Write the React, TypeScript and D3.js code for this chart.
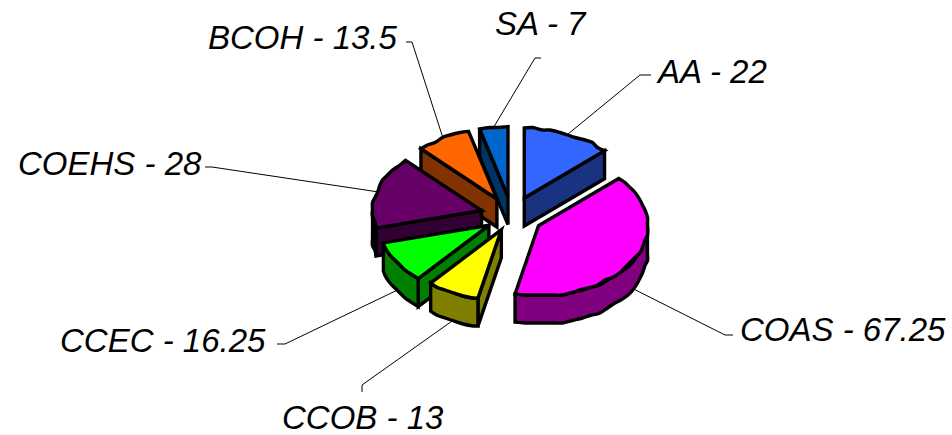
import React from "react";
import * as d3 from "d3";

const categories = ["AA", "COAS", "CCOB", "CCEC", "COEHS", "BCOH", "SA"];
const values = [22, 67.25, 13, 16.25, 28, 13.5, 7];
const valueLabels = ["22", "67.25", "13", "16.25", "28", "13.5", "7"];
const topColors = ["#3366ff", "#ff00ff", "#ffff00", "#00ff00", "#660066", "#ff6600", "#0066cc"];
const sideColors = ["#1a3380", "#800080", "#808000", "#008000", "#330033", "#803300", "#003366"];
const explodeBy = [0.28, 0.28, 0.22, 0.25, 0.29, 0.28, 0.28];
// where each label sits: [text x, baseline y, elbow x, elbow y, leader end x, leader end y]
const labelLayout = [
  [658, 83, 640, 75, 651, 75],
  [740, 341, 725, 335, 733, 335],
  [282, 429, 362, 385, 362, 392],
  [60, 352, 285, 344, 277, 344],
  [18, 175, 212, 167, 205, 167],
  [208, 49, 412, 42, 406, 42],
  [495, 35, 535, 58, 541, 58],
];

const W = 952, H = 435;
const cx = 512, cy = 216, rx = 109, ry = 70, depth = 28;
const grid = 2.5;

const pie = d3.pie<number>().sort(null).value((d) => d);
const arcs = pie(values);
const line = d3.line<[number, number]>();
const smooth = d3.line<[number, number]>().curve(d3.curveCatmullRom.alpha(0.5));

function rimPts(a0: number, a1: number, ax: number, ay: number, dy = 0): [number, number][] {
  const out: [number, number][] = [];
  const n = Math.max(2, Math.ceil((a1 - a0) / 0.09));
  for (let i = 0; i <= n; i++) {
    const a = a0 + ((a1 - a0) * i) / n;
    const x = ax + Math.sin(a) * rx, y = ay - Math.cos(a) * ry;
    const edge = i === 0 || i === n;
    const q: [number, number] = edge
      ? [x, y + dy]
      : [Math.round(x / grid) * grid, Math.round(y / grid) * grid + dy];
    out.push(q);
  }
  return out;
}

const order = [0, 6, 5, 4, 3, 2, 1];

export default function App() {
  const stroke = { stroke: "#000", strokeWidth: 3.4, strokeLinejoin: "miter" as const, strokeMiterlimit: 4 };
  return (
    <svg width={W} height={H} style={{ position: "absolute", left: 0, top: 0, background: "#fff" }}>
      {order.map((i) => {
        const d = arcs[i];
        const mid = (d.startAngle + d.endAngle) / 2;
        const ax = cx + Math.sin(mid) * rx * explodeBy[i];
        const ay = cy - Math.cos(mid) * ry * explodeBy[i];
        const p0: [number, number] = [ax + Math.sin(d.startAngle) * rx, ay - Math.cos(d.startAngle) * ry];
        const p1: [number, number] = [ax + Math.sin(d.endAngle) * rx, ay - Math.cos(d.endAngle) * ry];
        const apex: [number, number] = [ax, ay];
        const down = (p: [number, number]): [number, number] => [p[0], p[1] + depth];
        const topRim = rimPts(d.startAngle, d.endAngle, ax, ay);
        const topPath = `M${ax},${ay}L` + smooth(topRim)!.slice(1) + "Z";
        const f0 = Math.max(d.startAngle, Math.PI / 2);
        const f1 = Math.min(d.endAngle, (3 * Math.PI) / 2);
        let rimPath: string | null = null;
        if (f1 > f0) {
          const up = rimPts(f0, f1, ax, ay);
          const low = rimPts(f0, f1, ax, ay, depth).reverse();
          rimPath = smooth(up)! + "L" + smooth(low)!.slice(1) + "Z";
        }
        const showStart = d.startAngle > Math.PI;
        const showEnd = d.endAngle < Math.PI / 2;
        const wallStart = line([apex, p0, down(p0), down(apex)])! + "Z";
        const wallEnd = line([apex, p1, down(p1), down(apex)])! + "Z";
        return (
          <g key={categories[i]}>
            {showStart && <path d={wallStart} fill={sideColors[i]} {...stroke} />}
            {showEnd && <path d={wallEnd} fill={sideColors[i]} {...stroke} />}
            {rimPath && <path d={rimPath} fill={sideColors[i]} {...stroke} />}
            <path d={topPath} fill={topColors[i]} {...stroke} />
          </g>
        );
      })}
      {arcs.map((d, i) => {
        const mid = (d.startAngle + d.endAngle) / 2;
        const ax = cx + Math.sin(mid) * rx * explodeBy[i];
        const ay = cy - Math.cos(mid) * ry * explodeBy[i];
        const front = Math.cos(mid) < -0.2;
        const sx = ax + Math.sin(mid) * rx;
        const sy = ay - Math.cos(mid) * ry + (front ? depth : 0);
        const [tx, ty, ex, ey, lx, ly] = labelLayout[i];
        return (
          <g key={categories[i]}>
            <polyline points={`${sx},${sy} ${ex},${ey} ${lx},${ly}`} fill="none" stroke="#000" strokeWidth={1} />
            <text x={tx} y={ty} fontFamily="'Liberation Sans', Arial, sans-serif" fontStyle="italic" fontSize={33} fill="#000">
              {`${categories[i]} - ${valueLabels[i]}`}
            </text>
          </g>
        );
      })}
    </svg>
  );
}
